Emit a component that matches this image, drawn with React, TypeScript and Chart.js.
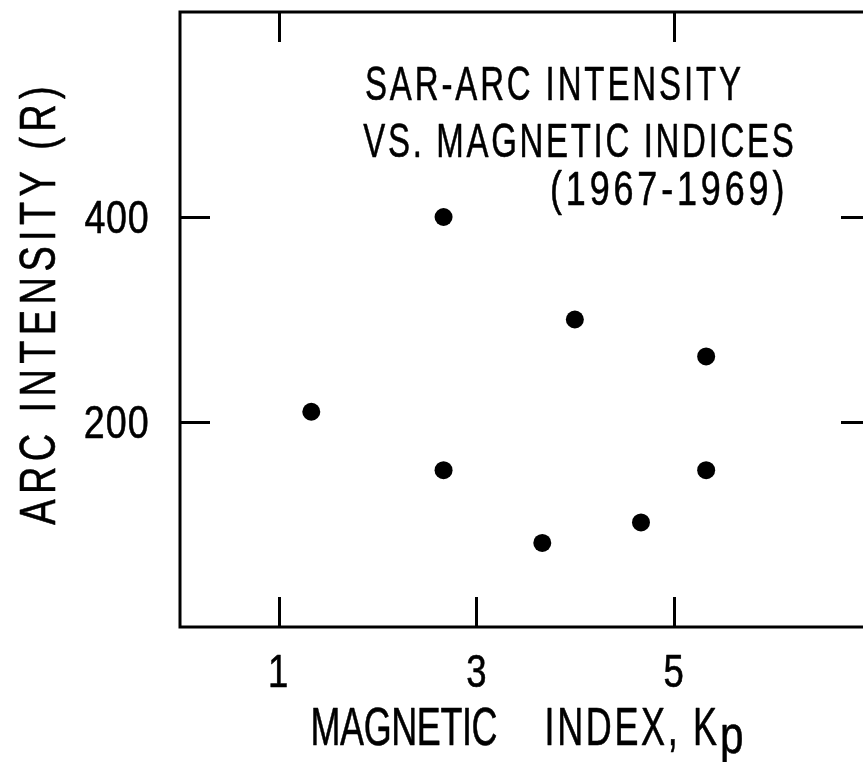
import React, { useEffect, useRef } from "react";
import { Chart, registerables } from "chart.js";

Chart.register(...registerables);

// ---- data ----
const kpValues = [1.33, 2.67, 2.67, 3.67, 4.0, 4.67, 5.33, 5.33];
const intensityValues = [210, 400, 153, 82, 300, 102, 264, 153];

const xTickValues = [1, 3, 5];
const xTickLabels = ["1", "3", "5"];
const xTopTickValues = [1, 5];
const yTickValues = [200, 400];
const yTickLabels = ["200", "400"];

const titleLines = ["SAR-ARC INTENSITY", "VS. MAGNETIC INDICES", "(1967-1969)"];
const xAxisTitleParts = ["MAGNETIC", "INDEX, K", "p"];
const yAxisTitle = "ARC INTENSITY (R)";

const FONT = "'Liberation Sans', Arial, sans-serif";

function setFont(ctx: CanvasRenderingContext2D, capH: number) {
  ctx.font = `100px ${FONT}`;
  const ratio = ctx.measureText("H").actualBoundingBoxAscent / 100;
  ctx.font = `${capH / ratio}px ${FONT}`;
  ctx.textAlign = "left";
  ctx.textBaseline = "alphabetic";
}

// draws text with glyphs squeezed by sx and extra letter spacing so ink spans [left,right]
function spaced(
  ctx: CanvasRenderingContext2D,
  text: string,
  left: number,
  right: number,
  baseline: number,
  capH: number,
  sx: number
) {
  ctx.save();
  setFont(ctx, capH - 0.5);
  const chars = Array.from(text);
  const n = chars.length;
  const adv = chars.map((c) => ctx.measureText(c).width * sx);
  const first = ctx.measureText(chars[0]);
  const last = ctx.measureText(chars[n - 1]);
  let sum = 0;
  for (let i = 0; i < n - 1; i++) sum += adv[i];
  const base = sum + (last.actualBoundingBoxRight + first.actualBoundingBoxLeft) * sx;
  const spacing = n > 1 ? (right - left - 0.5 - base) / (n - 1) : 0;
  let pen = left + 0.25 + first.actualBoundingBoxLeft * sx;
  if (n === 1) {
    const w = (first.actualBoundingBoxLeft + first.actualBoundingBoxRight) * sx;
    pen = (left + right) / 2 - w / 2 + first.actualBoundingBoxLeft * sx;
  }
  ctx.lineWidth = 0.6;
  ctx.lineJoin = "round";
  for (let i = 0; i < n; i++) {
    ctx.save();
    ctx.translate(pen, baseline - 0.25);
    ctx.scale(sx, 1);
    ctx.fillText(chars[i], 0, 0);
    ctx.strokeText(chars[i], 0, 0);
    ctx.restore();
    pen += adv[i] + spacing;
  }
  ctx.restore();
}

const framePlugin = {
  id: "framePlugin",
  afterDraw(chart: any) {
    const ctx: CanvasRenderingContext2D = chart.ctx;
    const { left, right, top, bottom } = chart.chartArea;
    const xs = chart.scales.x;
    const ys = chart.scales.y;
    ctx.save();
    ctx.strokeStyle = "#000";
    ctx.fillStyle = "#000";
    ctx.lineWidth = 3;
    ctx.lineCap = "butt";
    ctx.strokeRect(left, top, right - left, bottom - top);
    const tl = 30;
    ctx.beginPath();
    xTickValues.forEach((v) => {
      const px = Math.round(xs.getPixelForValue(v)) + 0.5;
      ctx.moveTo(px, bottom);
      ctx.lineTo(px, bottom - tl);
    });
    xTopTickValues.forEach((v) => {
      const px = Math.round(xs.getPixelForValue(v)) + 0.5;
      ctx.moveTo(px, top);
      ctx.lineTo(px, top + tl);
    });
    yTickValues.forEach((v) => {
      const py = Math.round(ys.getPixelForValue(v)) + 0.5;
      ctx.moveTo(left, py);
      ctx.lineTo(left + tl, py);
      ctx.moveTo(right, py);
      ctx.lineTo(right - tl, py);
    });
    ctx.stroke();

    // x tick labels
    xTickValues.forEach((v, i) => {
      const cx = xs.getPixelForValue(v);
      spaced(ctx, xTickLabels[i], cx - 12, cx + 12, 687, 32, 0.8);
    });
    // y tick labels
    yTickValues.forEach((v, i) => {
      const py = ys.getPixelForValue(v);
      spaced(ctx, yTickLabels[i], 85, 148, py + 16.5, 33, 0.8);
    });

    // title block
    spaced(ctx, titleLines[0], 366, 741, 100, 34, 0.68);
    spaced(ctx, titleLines[1], 363, 793, 157, 34, 0.68);
    spaced(ctx, titleLines[2], 552, 783, 205, 34, 0.74);

    // x axis title
    spaced(ctx, xAxisTitleParts[0], 313, 497, 745, 37, 0.68);
    spaced(ctx, xAxisTitleParts[1], 547, 717, 745, 37, 0.68);
    spaced(ctx, xAxisTitleParts[2], 722, 743, 753, 37, 0.8);

    // y axis title (rotated)
    ctx.save();
    ctx.translate(55, 525);
    ctx.rotate(-Math.PI / 2);
    spaced(ctx, yAxisTitle, 0, 437, 0, 35, 0.76);
    ctx.restore();

    ctx.restore();
  },
};

export default function App() {
  const ref = useRef<HTMLCanvasElement | null>(null);
  useEffect(() => {
    if (!ref.current) return;
    const points = kpValues.map((x, i) => ({ x, y: intensityValues[i] }));
    const chart = new Chart(ref.current, {
      type: "scatter",
      data: {
        datasets: [
          {
            label: "SAR-arc intensity",
            data: points,
            pointRadius: 9,
            pointHoverRadius: 9,
            backgroundColor: "#000",
            borderWidth: 0,
          },
        ],
      },
      options: {
        animation: false,
        responsive: false,
        devicePixelRatio: 1,
        layout: { padding: { left: 180, top: 12, right: 7, bottom: 135 } },
        scales: {
          x: { type: "linear", min: 0, max: 7, display: false },
          y: { type: "linear", min: 0, max: 600, display: false },
        },
        plugins: {
          legend: { display: false },
          tooltip: { enabled: false },
          title: { display: false },
        },
        events: [],
      },
      plugins: [framePlugin],
    });
    return () => chart.destroy();
  }, []);
  return (
    <div
      style={{
        position: "fixed",
        left: 0,
        top: 0,
        width: 863,
        height: 762,
        overflow: "hidden",
        background: "#fff",
      }}
    >
      <canvas ref={ref} width={880} height={762} style={{ display: "block" }} />
    </div>
  );
}
